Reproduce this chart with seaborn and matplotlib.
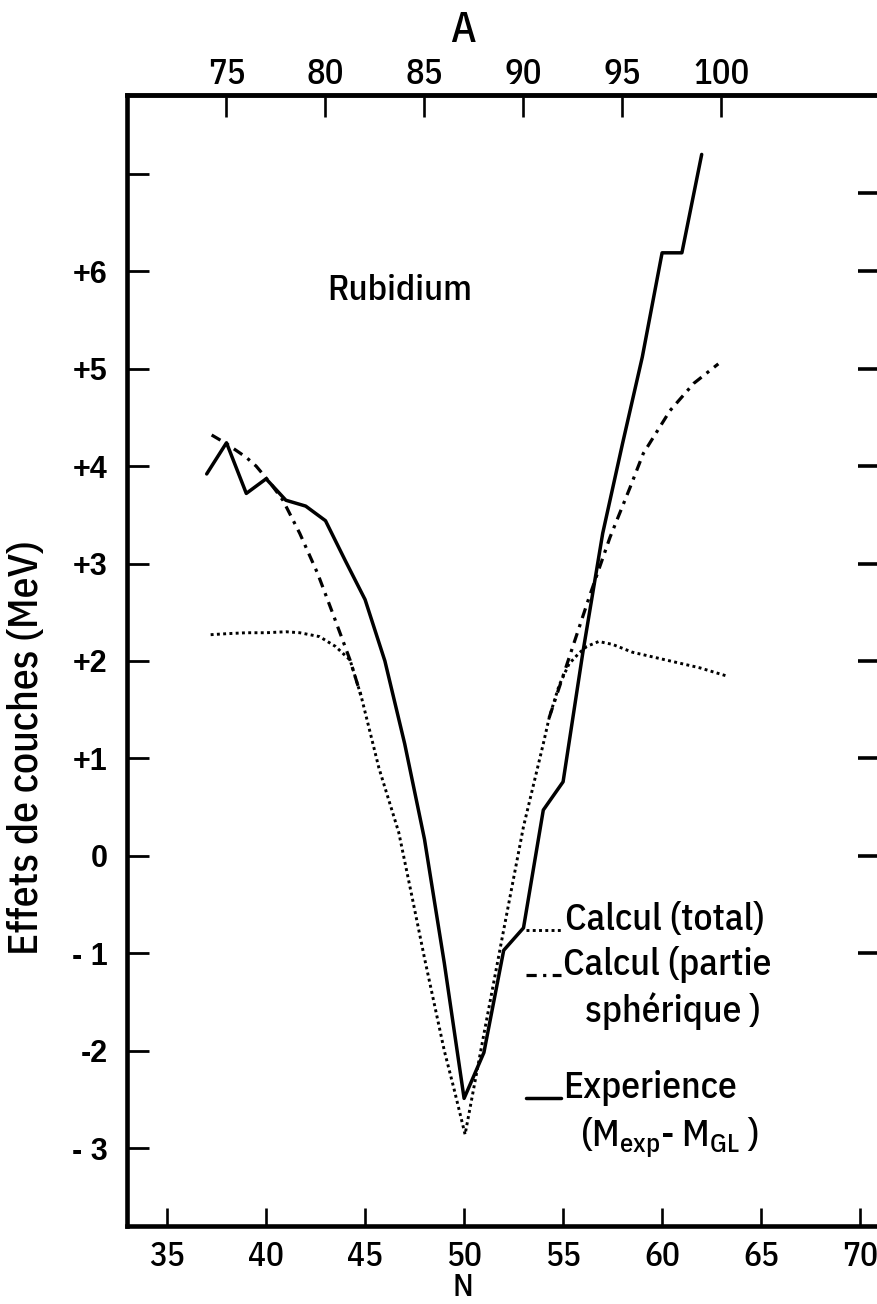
import matplotlib
matplotlib.use("Agg")
import matplotlib.pyplot as plt
import seaborn as sns
from matplotlib.lines import Line2D
from matplotlib import font_manager as fm

# ---- data -----------------------------------------------------------------
Z_RB = 37  # proton number of rubidium, A = N + Z

# experimental shell effect (M_exp - M_GL), MeV, per neutron number
n_exp = [37, 38, 39, 40, 41, 42, 43, 44, 45, 46, 47, 48, 49, 50,
         51, 52, 53, 54, 55, 56, 57, 58, 59, 60, 61, 62]
shell_exp = [3.92, 4.24, 3.72, 3.87, 3.65, 3.59, 3.44, 3.03, 2.63, 2.00,
             1.15, 0.17, -1.10, -2.49, -2.02, -0.97, -0.74, 0.47, 0.76,
             2.09, 3.31, 4.23, 5.12, 6.19, 6.19, 7.20]

# calculated shell effect, total
n_total = [37.2, 38, 39, 40, 41, 41.7, 42.7, 43.5, 44.24, 44.8, 45.7, 46.7,
           47.4, 48, 49, 49.5, 50.05, 51, 52, 53, 54, 54.3, 54.8, 55.3,
           55.8, 56.2, 56.8, 57.5, 58.5, 60.2, 61.9, 63.2]
shell_total = [2.27, 2.28, 2.29, 2.29, 2.30, 2.29, 2.25, 2.15, 2.01, 1.64,
               0.90, 0.24, -0.45, -1.05, -2.00, -2.40, -2.86, -1.83, -0.76,
               0.30, 1.15, 1.42, 1.75, 1.97, 2.08, 2.15, 2.20, 2.17, 2.09,
               2.01, 1.93, 1.85]

# calculated shell effect, spherical part (where it departs from the total)
n_sph_low = [37.25, 38, 39, 39.5, 40.2, 40.85, 41.7, 42.6, 43.4, 44.24, 44.8]
shell_sph_low = [4.32, 4.23, 4.09, 4.00, 3.83, 3.65, 3.31, 2.90, 2.47, 2.01,
                 1.64]
n_sph_high = [54.3, 55.2, 56.36, 57.37, 58.38, 59.05, 60.4, 61.6, 62.84]
shell_sph_high = [1.42, 1.97, 2.68, 3.27, 3.78, 4.13, 4.57, 4.85, 5.05]

n_ticks = [35, 40, 45, 50, 55, 60, 65, 70]
a_ticks = [75, 80, 85, 90, 95, 100]
y_ticks = [-3, -2, -1, 0, 1, 2, 3, 4, 5, 6, 7]
y_ticklabels = ["- 3", "-2", "- 1", "0", "+1", "+2", "+3", "+4", "+5", "+6", ""]
right_ticks = [-1, 0, 1, 2, 3, 4, 5, 6, 6.8]

# ---- fonts ----------------------------------------------------------------
def condensed_face():
    """Return a narrow sans face if one is installed, else None."""
    ranked = []
    for f in fm.fontManager.ttflist:
        name = f.name.lower()
        stretch = str(f.stretch).lower()
        narrow = ("narrow" in name or "condensed" in name
                  or stretch in ("condensed", "semi-condensed"))
        if not narrow or f.style != "normal":
            continue
        if "extra" in name or "ultra" in stretch or "extra" in stretch:
            continue
        try:
            w = int(f.weight)
        except (TypeError, ValueError):
            w = 400
        if w not in (400, 500):
            continue
        score = 0
        if "sans" in name or "liberation" in name:
            score += 4
        if w == 500:
            score += 1
        if "semi" in name or "semi" in stretch:
            score -= 1
        ranked.append((score, f.fname))
    if not ranked:
        return None
    ranked.sort(reverse=True)
    return ranked[0][1]

sns.set_theme(style="white")
plt.rcParams["font.family"] = ["DejaVu Sans"]
plt.rcParams["mathtext.default"] = "regular"
_path = condensed_face()
TEXT_FP = fm.FontProperties(fname=_path) if _path else fm.FontProperties(family="DejaVu Sans")
NUM_FP = fm.FontProperties(family=["Liberation Sans", "DejaVu Sans"], weight="bold")
INK = "black"

def fp(size, base=TEXT_FP):
    p = base.copy()
    p.set_size(size)
    return p

# ---- figure ---------------------------------------------------------------
W, H = 877, 1304
fig = plt.figure(figsize=(W / 100, H / 100), dpi=100)
fig.patch.set_facecolor("white")

def fx(px):
    return px / W

def fy(py):
    return 1 - py / H

ax_left, ax_bottom_px, ax_top_px = 127, 1226, 95
ax = fig.add_axes([fx(ax_left), fy(ax_bottom_px), 1 - fx(ax_left),
                   (ax_bottom_px - ax_top_px) / H])
ax.set_facecolor("white")

LW = 2.5
DOT = (0, (1.0, 1.15))
DASHDOT = (0, (3.2, 2.0, 1.0, 2.0))
sns.lineplot(x=n_exp, y=shell_exp, ax=ax, color=INK, lw=LW,
             sort=False, estimator=None)
sns.lineplot(x=n_total, y=shell_total, ax=ax, color=INK, lw=2.1,
             linestyle=DOT, sort=False, estimator=None)
for xs, ys in ((n_sph_low, shell_sph_low), (n_sph_high, shell_sph_high)):
    sns.lineplot(x=xs, y=ys, ax=ax, color=INK, lw=2.3, linestyle=DASHDOT,
                 sort=False, estimator=None)

ax.set_xlim(32.975, 70.854)
ax.set_ylim(-3.80, 7.81)
ax.set_xlabel("")
ax.set_ylabel("")

for side in ("left", "top", "bottom"):
    ax.spines[side].set_linewidth(3.3)
    ax.spines[side].set_color(INK)
ax.spines["right"].set_visible(False)

TICK_SIZE = 24
ax.set_xticks(n_ticks)
ax.set_xticklabels([str(v) for v in n_ticks])
ax.tick_params(axis="x", direction="in", length=13, width=1.9, color=INK,
               pad=11, labelcolor=INK, bottom=True, top=False)
for lab in ax.get_xticklabels():
    lab.set_fontproperties(fp(TICK_SIZE))
ax.set_yticks(y_ticks)
ax.set_yticklabels(y_ticklabels)
ax.tick_params(axis="y", direction="in", length=16, width=2.0, color=INK,
               pad=14, labelcolor=INK, left=True, right=False)
for lab in ax.get_yticklabels():
    lab.set_fontproperties(fp(22, NUM_FP))

# mass number scale on top
top = ax.secondary_xaxis("top", functions=(lambda n: n + Z_RB,
                                           lambda a: a - Z_RB))
top.set_xticks(a_ticks)
top.set_xticklabels([str(v) for v in a_ticks])
top.tick_params(direction="in", length=16, width=1.9, color=INK, pad=3,
                labelcolor=INK)
for lab in top.get_xticklabels():
    lab.set_fontproperties(fp(TICK_SIZE + 1))
top.spines["top"].set_linewidth(3.3)

# ticks of the neighbouring frame on the right
right = ax.secondary_yaxis("right")
right.set_yticks(right_ticks)
right.set_yticklabels([])
right.tick_params(direction="in", length=14, width=2.6, color=INK)
right.spines["right"].set_visible(False)

# axis titles
fig.text(fx(463), fy(30), "A", ha="center", va="center",
         fontproperties=fp(31), color=INK)
fig.text(fx(463), fy(1296), "N", ha="center", va="baseline",
         fontproperties=fp(23), color=INK)
ylab = fig.text(fx(27), fy(748), "Effets de couches (MeV)", rotation=90,
                ha="center", va="center", fontproperties=fp(30), color=INK)

# element name
name = fig.text(fx(400), fy(291), "Rubidium", ha="center", va="center",
                fontproperties=fp(27), color=INK)

# hand-drawn style key
key_x0, key_x1 = 526, 561
key_rows = [
    (930, DOT, 2.1, "Calcul (total)", 565),
    (975, DASHDOT, 2.3, "Calcul (partie", 563),
    (1098, "-", LW, "Experience", 563),
]
key_texts = []
for y_px, ls, lw, label, tx in key_rows:
    fig.add_artist(Line2D([fx(key_x0), fx(key_x1)], [fy(y_px), fy(y_px)],
                          transform=fig.transFigure, color=INK, lw=lw,
                          linestyle=ls))
    key_texts.append(fig.text(fx(tx), fy(y_px), label, ha="left",
                              va="baseline", fontproperties=fp(27), color=INK))
key_texts.append(fig.text(fx(585), fy(1022), "sphérique )", ha="left",
                          va="baseline", fontproperties=fp(27), color=INK))
key_texts.append(fig.text(fx(580), fy(1146), r"(M$_{exp}$- M$_{GL}$ )",
                          ha="left", va="baseline", fontproperties=fp(27),
                          color=INK))

# size the lettering to the frame
fig.canvas.draw()
renderer = fig.canvas.get_renderer()

def scale_to(texts, ref, target_px, horizontal=True):
    bb = ref.get_window_extent(renderer)
    span = bb.width if horizontal else bb.height
    k = target_px / span
    for t in texts:
        t.set_fontsize(t.get_fontsize() * k)

scale_to(key_texts, key_texts[0], 200)
scale_to([name], name, 145)
scale_to([ylab], ylab, 415, horizontal=False)

fig.savefig("out.png", dpi=100, facecolor="white")
